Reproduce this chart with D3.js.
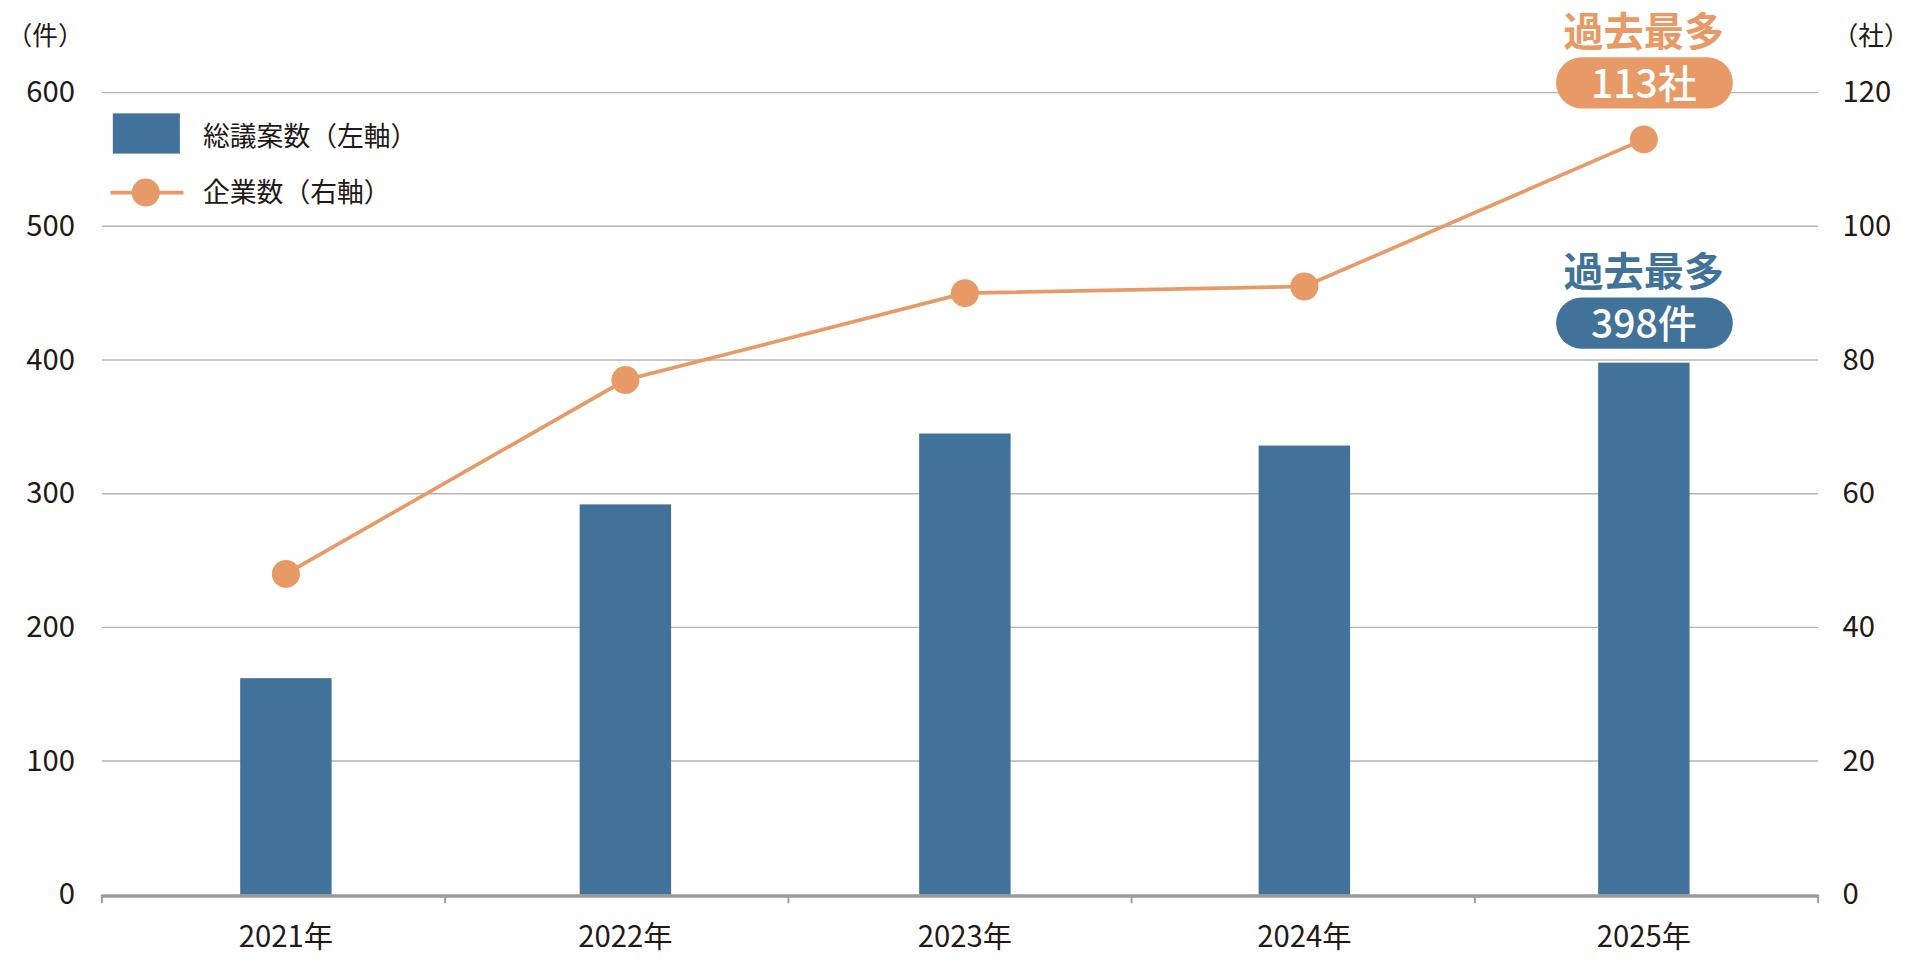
<!DOCTYPE html><html><head><meta charset="utf-8"><script src="https://d3js.org/d3.v7.min.js"></script>
<style>body{margin:0;background:#fff}svg{display:block}text{font-family:"Noto Sans CJK JP","Noto Sans",sans-serif;fill:#231815}</style></head><body>
<script>
const categories=["2021年","2022年","2023年","2024年","2025年"];
const proposals=[162,292,345,336,398];
const companies=[48,77,90,91,113];
const leftTicks=[0,100,200,300,400,500,600];
const rightTicks=[0,20,40,60,80,100,120];
const blue="#41729a",orange="#e89a66";
const svg=d3.select("body").append("svg").attr("width",1920).attr("height",963).attr("viewBox","0 0 1568 790");
const L=80,R=1488,T=76,B=734;
const yL=d3.scaleLinear().domain([0,600]).range([B,T]);
const yR=d3.scaleLinear().domain([0,120]).range([B,T]);
const xb=d3.scaleBand().domain(categories).range([L,R]);
const xp=d3.scalePoint().domain(categories).range([231,1345]);
svg.append("g").selectAll("line").data(leftTicks.slice(1)).join("line")
 .attr("x1",L).attr("x2",R).attr("y1",d=>yL(d)).attr("y2",d=>yL(d)).attr("stroke","#b5b5b5").attr("stroke-width",1.2);
svg.append("g").selectAll("rect").data(proposals).join("rect")
 .attr("x",(d,i)=>xp(categories[i])-37.5).attr("width",75).attr("y",d=>yL(d)).attr("height",d=>B-yL(d)).attr("fill",blue);
svg.append("line").attr("x1",L).attr("x2",R).attr("y1",B+1).attr("y2",B+1).attr("stroke","#9a9a9a").attr("stroke-width",3);
const tk=[L,...categories.map(c=>xb(c)+xb.bandwidth())];
svg.append("g").selectAll("line").data(tk).join("line").attr("x1",d=>d).attr("x2",d=>d).attr("y1",B).attr("y2",B+7).attr("stroke","#9a9a9a").attr("stroke-width",1.5);
svg.append("g").selectAll("text").data(categories).join("text").attr("x",(d,i)=>xp(d)).attr("y",777).attr("text-anchor","middle").attr("font-size",24).text(d=>d);
svg.append("g").selectAll("text").data(leftTicks).join("text").attr("x",58).attr("y",d=>yL(d)+8).attr("text-anchor","end").attr("font-size",24).text(d=>d);
svg.append("g").selectAll("text").data(rightTicks).join("text").attr("x",1508).attr("y",d=>yR(d)+8).attr("font-size",24).text(d=>d);
svg.append("text").attr("x",2).attr("y",37).attr("font-size",21).text("（件）");
svg.append("text").attr("x",1500).attr("y",37).attr("font-size",21).text("（社）");
svg.append("path").datum(companies).attr("fill","none").attr("stroke",orange).attr("stroke-width",3)
 .attr("d",d3.line().x((d,i)=>xp(categories[i])).y(d=>yR(d)));
svg.append("g").selectAll("circle").data(companies).join("circle").attr("cx",(d,i)=>xp(categories[i])).attr("cy",d=>yR(d)).attr("r",11.5).attr("fill",orange);
svg.append("rect").attr("x",89).attr("y",93).attr("width",55).attr("height",33).attr("fill",blue);
svg.append("text").attr("x",163).attr("y",120).attr("font-size",22).text("総議案数（左軸）");
svg.append("line").attr("x1",87).attr("x2",147).attr("y1",158).attr("y2",158).attr("stroke",orange).attr("stroke-width",3);
svg.append("circle").attr("cx",116).attr("cy",158).attr("r",11.5).attr("fill",orange);
svg.append("text").attr("x",163).attr("y",166).attr("font-size",22).text("企業数（右軸）");
function ann(cy,col,label){
 svg.append("text").attr("x",1345).attr("y",cy-30).attr("text-anchor","middle").attr("font-size",33).attr("font-weight",700).style("fill",col).text("過去最多");
 svg.append("rect").attr("x",1273).attr("y",cy-21).attr("width",145).attr("height",42).attr("rx",21).attr("fill",col);
 svg.append("text").attr("x",1345).attr("y",cy+12).attr("text-anchor","middle").attr("font-size",32).attr("font-weight",500).style("fill","#fff").text(label);
}
ann(68,orange,"113社");
ann(265,blue,"398件");
</script></body></html>
